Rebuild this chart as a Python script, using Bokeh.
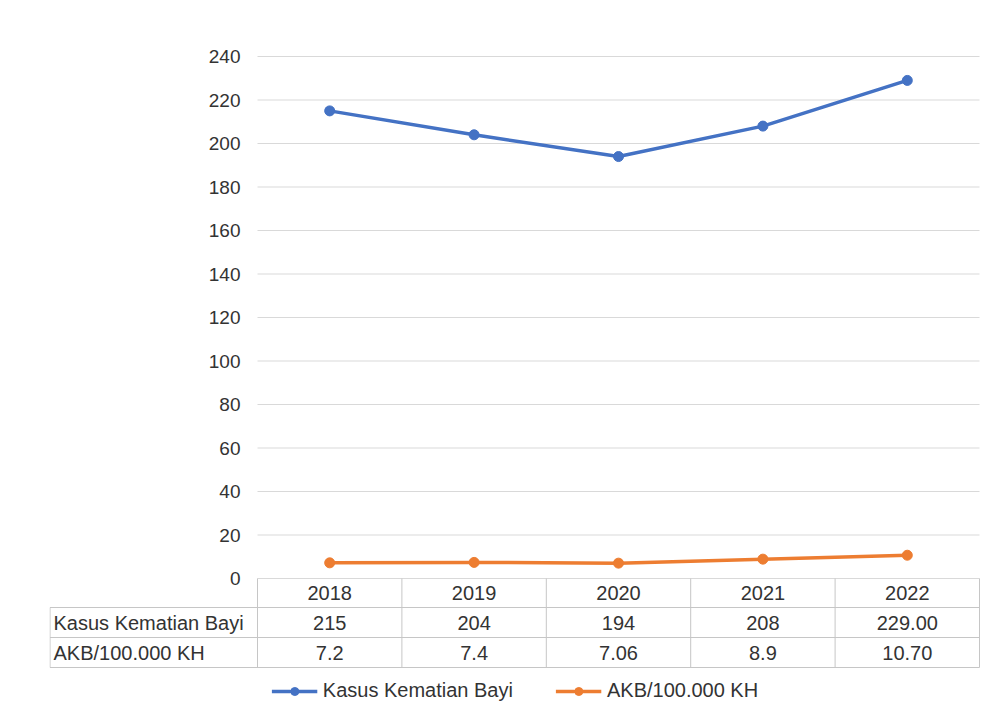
from bokeh.plotting import figure
from bokeh.models import FixedTicker, Range1d, Legend, LegendItem, ColumnDataSource
from bokeh.core.properties import value
from bokeh.embed import file_html
from bokeh.resources import INLINE

# ---- data ----
years = ["2018", "2019", "2020", "2021", "2022"]
kasus = [215, 204, 194, 208, 229]
akb = [7.2, 7.4, 7.06, 8.9, 10.7]
kasus_labels = ["215", "204", "194", "208", "229.00"]
akb_labels = ["7.2", "7.4", "7.06", "8.9", "10.70"]
series_names = ["Kasus Kematian Bayi", "AKB/100.000 KH"]
y_ticks = list(range(0, 241, 20))

# ---- style ----
FONT_NAME = "Liberation Sans"
FONT = value(FONT_NAME)
BLUE = "#4472C4"
ORANGE = "#ED7D31"
TXT = "#333333"
GRID = "#d9d9d9"
BORDER = "#c6c6c6"

# ---- layout (pixels) ----
W, H = 980, 714
FRAME_L = 49           # frame left (table left edge)
PLOT_L, PLOT_R = 257, 979   # category area
Y_MAX_PX, Y0_PX = 56, 578   # pixel rows of top tick and zero
ROW_EDGES_PX = [578, 607, 637, 667]  # header, row1, row2 boundaries

n = len(years)
y_max = y_ticks[-1]
unit_x = (PLOT_R - PLOT_L) / n
unit_y = (Y0_PX - Y_MAX_PX) / y_max


def xd(px):
    return (px - PLOT_L) / unit_x


def yd(py):
    return y_max - (py - Y_MAX_PX) / unit_y


xs = [i + 0.5 for i in range(n)]

p = figure(width=W, height=H, output_backend="svg", toolbar_location=None,
           x_range=Range1d(xd(FRAME_L), xd(W)), y_range=Range1d(yd(H), yd(0)),
           min_border_left=FRAME_L, min_border_right=0, min_border_top=0, min_border_bottom=0,
           x_axis_location=None)
p.outline_line_color = None
p.grid.visible = False
p.background_fill_color = "white"
p.border_fill_color = "white"

# y axis drawn at the left edge of the category area
p.yaxis.fixed_location = 0
p.yaxis.ticker = FixedTicker(ticks=y_ticks)
p.yaxis.axis_line_color = None
p.yaxis.major_tick_line_color = None
p.yaxis.minor_tick_line_color = None
p.yaxis.major_tick_out = 0
p.yaxis.major_tick_in = 0
p.yaxis.major_label_standoff = 17
p.yaxis.major_label_text_font = FONT_NAME
p.yaxis.major_label_text_font_size = "19px"
p.yaxis.major_label_text_color = TXT

# horizontal gridlines over the category area
p.segment(x0=[0] * len(y_ticks), y0=y_ticks, x1=[n] * len(y_ticks), y1=y_ticks,
          line_color=GRID, line_width=1)

# ---- table ----
ry = [yd(v) for v in ROW_EDGES_PX]
tab_left = xd(FRAME_L + 0.5)
p.segment(x0=[tab_left] * 3, y0=ry[1:], x1=[n] * 3, y1=ry[1:], line_color=BORDER, line_width=1)
vx = list(range(n + 1))
p.segment(x0=vx, y0=[ry[0]] * len(vx), x1=vx, y1=[ry[3]] * len(vx), line_color=BORDER, line_width=1)
p.segment(x0=[tab_left], y0=[ry[1]], x1=[tab_left], y1=[ry[3]], line_color=BORDER, line_width=1)

hdr_y = (ry[0] + ry[1]) / 2
r1_y = (ry[1] + ry[2]) / 2
r2_y = (ry[2] + ry[3]) / 2
txt_kw = dict(text_font=FONT, text_font_size="20px", text_color=TXT, text_baseline="middle")
p.text(x=xs, y=[hdr_y] * n, text=years, text_align="center", **txt_kw)
p.text(x=[xd(FRAME_L + 4)] * 2, y=[r1_y, r2_y], text=series_names, text_align="left", **txt_kw)
p.text(x=xs, y=[r1_y] * n, text=kasus_labels, text_align="center", **txt_kw)
p.text(x=xs, y=[r2_y] * n, text=akb_labels, text_align="center", **txt_kw)

# ---- series ----
src = ColumnDataSource(dict(x=xs, kasus=kasus, akb=akb))
l1 = p.line("x", "kasus", source=src, line_color=BLUE, line_width=3.5)
s1 = p.scatter("x", "kasus", source=src, size=10, fill_color=BLUE, line_color=BLUE)
l2 = p.line("x", "akb", source=src, line_color=ORANGE, line_width=3.5)
s2 = p.scatter("x", "akb", source=src, size=10, fill_color=ORANGE, line_color=ORANGE)

legend = Legend(items=[LegendItem(label=series_names[0], renderers=[l1, s1]),
                       LegendItem(label=series_names[1], renderers=[l2, s2])],
                orientation="horizontal", location="bottom_center",
                label_text_font=FONT_NAME, label_text_font_size="20px", label_text_color=TXT,
                glyph_width=46, glyph_height=20, spacing=42, padding=0, margin=12,
                label_standoff=6, border_line_color=None, background_fill_alpha=0)
p.add_layout(legend)

open("out.html", "w").write(file_html(p, INLINE))
